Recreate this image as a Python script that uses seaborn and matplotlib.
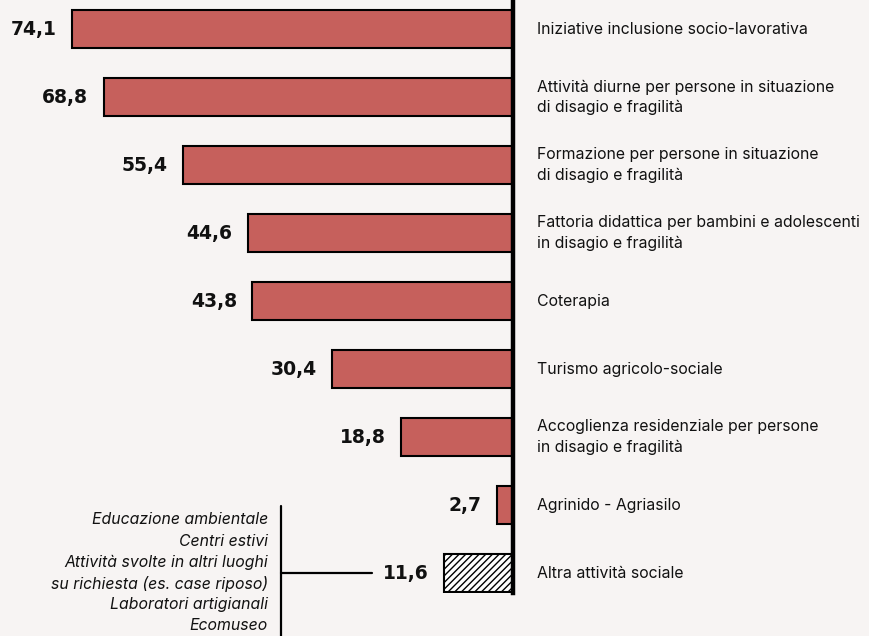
import matplotlib
matplotlib.use("Agg")
import matplotlib.pyplot as plt
from matplotlib.lines import Line2D
import seaborn as sns
import pandas as pd

# Attività sociali svolte dalle fattorie sociali (%)
categories = [
    "Iniziative inclusione socio-lavorativa",
    "Attività diurne per persone in situazione\ndi disagio e fragilità",
    "Formazione per persone in situazione\ndi disagio e fragilità",
    "Fattoria didattica per bambini e adolescenti\nin disagio e fragilità",
    "Coterapia",
    "Turismo agricolo-sociale",
    "Accoglienza residenziale per persone\nin disagio e fragilità",
    "Agrinido - Agriasilo",
    "Altra attività sociale",
]
values = [74.1, 68.8, 55.4, 44.6, 43.8, 30.4, 18.8, 2.7, 11.6]
other_items = [
    "Educazione ambientale",
    "Centri estivi",
    "Attività svolte in altri luoghi",
    "su richiesta (es. case riposo)",
    "Laboratori artigianali",
    "Ecomuseo",
]

BG = "#f7f4f3"
BAR = "#c6605c"
INK = "#111111"

sns.set_theme(style="white")
plt.rcParams["font.family"] = ["Inter", "DejaVu Sans"]

df = pd.DataFrame({"cat": categories, "val": values})

W, H = 870, 636
fig = plt.figure(figsize=(W / 100, H / 100), dpi=100, facecolor=BG)
ax = fig.add_axes([0, 1 - 593 / H, 513 / W, 593 / H])
ax.set_facecolor(BG)

sns.barplot(data=df, x="val", y="cat", orient="h", color=BAR, width=0.56,
            saturation=1, edgecolor="black", linewidth=1.5, ax=ax)

# last bar: generic "other" category, hatched
last = ax.patches[len(values) - 1]
last.set_facecolor("white")
last.set_hatch("/////")

ax.set_xlim(86.2, 0)
ax.set_ylim(8.294, -0.4265)

for s in ["top", "left", "bottom"]:
    ax.spines[s].set_visible(False)
ax.spines["right"].set_linewidth(3.2)
ax.spines["right"].set_color("black")
ax.set_xticks([])
ax.set_yticks([])
ax.set_xlabel("")
ax.set_ylabel("")

for i, (cat, v) in enumerate(zip(categories, values)):
    ax.annotate(f"{v:.1f}".replace(".", ","), xy=(v, i), xytext=(-11, 0),
                textcoords="offset points", ha="right", va="center",
                fontsize=13.5, fontweight="bold", family="DejaVu Sans",
                color=INK)
    ax.annotate(cat, xy=(0, i), xytext=(17, 0), textcoords="offset points",
                ha="left", va="center", fontsize=11.4, color=INK,
                linespacing=1.4, annotation_clip=False)

# bracket listing the activities grouped as "Altra attività sociale"
yc = 1 - 573 / H
fig.add_artist(Line2D([281 / W, 281 / W], [1 - 506 / H, 0], color="black", lw=1.6))
fig.add_artist(Line2D([281 / W, 372 / W], [yc, yc], color="black", lw=1.6))
for k, item in enumerate(other_items):
    y = 1 - (520 + 21.2 * k) / H
    fig.text(268 / W, y, item, ha="right", va="center", fontsize=11.4,
             style="italic", color=INK)

fig.savefig("out.png", dpi=100, facecolor=BG)
